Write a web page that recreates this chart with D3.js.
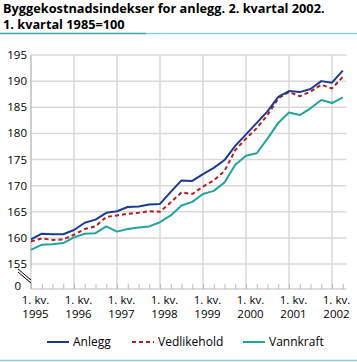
<!DOCTYPE html>
<html><head><meta charset="utf-8">
<script src="https://cdn.jsdelivr.net/npm/d3@7"></script>
<style>
body{margin:0;background:#fff;}
svg{display:block;font-family:"Open Sans",sans-serif;}
</style></head><body>
<svg id="c" width="357" height="362"></svg>
<script>
const years = ["1995","1996","1997","1998","1999","2000","2001","2002"];
const quarterCount = 30;
const yTicks = [155,160,165,170,175,180,185,190,195];
const seriesNames = ["Anlegg","Vedlikehold","Vannkraft"];
const anlegg = [159.7,160.8,160.7,160.7, 161.5,162.9,163.5,164.8, 165.1,165.9,166.0,166.4,
  166.5,168.8,171.0,170.9, 172.2,173.4,174.9,177.6, 179.8,182.0,184.2,187.0,
  188.1,187.9,188.5,190.0, 189.7,192.0];
const vedlikehold = [159.3,159.9,159.6,159.7, 160.6,161.7,162.2,164.0, 164.3,164.6,164.8,165.1,
  165.0,166.8,168.7,168.4, 169.8,171.0,172.8,176.8, 179.0,181.0,183.5,186.7,
  187.9,187.1,188.0,189.3, 188.6,190.8];
const vannkraft = [157.7,158.7,158.8,159.0, 160.1,160.8,160.9,162.2, 161.2,161.7,162.0,162.2,
  163.0,164.3,166.2,166.9, 168.4,169.0,170.6,174.0, 175.7,176.2,179.0,182.0,
  184.0,183.5,184.8,186.4, 185.8,186.9];

const svg = d3.select("#c");
const L = 31, R = 346.5, T = 55, B = 264, AX = 289;
const x = d3.scaleLinear().domain([0, quarterCount - 1]).range([L, 342.75]);
const y = d3.scaleLinear().domain([155, 195]).range([B, T]);
const grid = "#d9d9d9";

// title
const title = svg.append("g").attr("font-weight", "bold").attr("fill", "#000");
const t1 = title.append("text").attr("x", 3).attr("y", 13).attr("font-size", 13)
  .text("Byggekostnadsindekser for anlegg. 2. kvartal 2002.");
const w = t1.node().getComputedTextLength();
const fs = 13 * 322 / w;
t1.attr("font-size", fs);
title.append("text").attr("x", 3).attr("y", 28.5).attr("font-size", fs).text("1. kvartal 1985=100");
svg.append("line").attr("x1", 0).attr("x2", 146).attr("y1", 33.5).attr("y2", 33.5).attr("stroke", "#3fa9a9").attr("stroke-width", 1.5);
svg.append("line").attr("x1", 146).attr("x2", 357).attr("y1", 33.5).attr("y2", 33.5).attr("stroke", "#8fd0d0").attr("stroke-width", 1.5);
svg.append("line").attr("x1", 0).attr("x2", 357).attr("y1", 360.5).attr("y2", 360.5).attr("stroke", "#8fd0d0").attr("stroke-width", 1.5);

// horizontal grid
svg.append("g").selectAll("line").data(yTicks).join("line")
  .attr("x1", L).attr("x2", R).attr("y1", d => y(d)).attr("y2", d => y(d))
  .attr("stroke", grid).attr("stroke-width", 1.5);
// vertical year grid
svg.append("g").selectAll("line").data(years).join("line")
  .attr("x1", (d, i) => x(i * 4)).attr("x2", (d, i) => x(i * 4))
  .attr("y1", T).attr("y2", AX).attr("stroke", grid).attr("stroke-width", 1.5);

// y axis labels
svg.append("g").attr("font-size", 11.5).attr("text-anchor", "end").attr("fill", "#000")
  .selectAll("text").data(yTicks).join("text")
  .attr("x", 27).attr("y", d => y(d) + 4).text(d => d);
svg.append("text").attr("x", 21).attr("y", AX + 1).attr("font-size", 11.5).attr("text-anchor", "end").text("0");

// y axis line with break
svg.append("line").attr("x1", L).attr("x2", L).attr("y1", T).attr("y2", B + 3).attr("stroke", "#bbb").attr("stroke-width", 1);
svg.append("line").attr("x1", L).attr("x2", L).attr("y1", 282).attr("y2", AX).attr("stroke", "#bbb").attr("stroke-width", 1);
[0, 3].forEach(o => svg.append("line").attr("x1", 18).attr("y1", 269 + o).attr("x2", 31).attr("y2", 280 + o)
  .attr("stroke", "#000").attr("stroke-width", 1));

// x axis with quarter ticks
const xAxis = d3.axisBottom(x).tickValues(d3.range(quarterCount)).tickSize(-5).tickFormat("");
const gx = svg.append("g").attr("transform", `translate(0,${AX})`).call(xAxis);
gx.select(".domain").attr("stroke", "#bbb").attr("d", `M${L},0H${R}`);
gx.selectAll(".tick line").attr("stroke", "#bbb");

// x labels
const xl = svg.append("g").attr("font-size", 11.5).attr("text-anchor", "middle").attr("fill", "#000");
years.forEach((yr, i) => {
  xl.append("text").attr("x", x(i * 4) + 4.5).attr("y", 304).text("1. kv.");
  xl.append("text").attr("x", x(i * 4) + 4.5).attr("y", 318).text(yr);
});

// lines
const line = d3.line().x((d, i) => x(i)).y(d => y(d));
const styles = [
  {data: vannkraft, color: "#24a39b", dash: null},
  {data: vedlikehold, color: "#b0201e", dash: "4,3"},
  {data: anlegg, color: "#1c3a94", dash: null}
];
styles.forEach(s => svg.append("path").datum(s.data).attr("d", line).attr("fill", "none")
  .attr("stroke", s.color).attr("stroke-width", 2).attr("stroke-dasharray", s.dash)
  .attr("stroke-linejoin", "round"));

// legend
const leg = [
  {name: seriesNames[0], color: "#1c3a94", dash: null, x: 47},
  {name: seriesNames[1], color: "#b0201e", dash: "4,3", x: 132},
  {name: seriesNames[2], color: "#24a39b", dash: null, x: 243}
];
const lg = svg.append("g").attr("font-size", 12);
leg.forEach(l => {
  lg.append("line").attr("x1", l.x).attr("x2", l.x + 22).attr("y1", 342).attr("y2", 342)
    .attr("stroke", l.color).attr("stroke-width", 2).attr("stroke-dasharray", l.dash);
  lg.append("text").attr("x", l.x + 26).attr("y", 346).text(l.name);
});
</script>
</body></html>
